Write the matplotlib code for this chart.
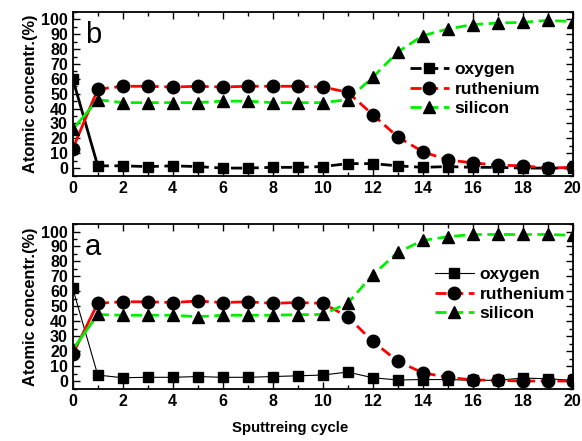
import numpy as np
import matplotlib
matplotlib.use("Agg")
import matplotlib.pyplot as plt
from matplotlib.ticker import MultipleLocator

plt.rcParams["font.family"] = ["Liberation Sans", "DejaVu Sans"]

# sputtering cycles
cycles = list(range(21))

# panel b (top)
b_oxygen = [60, 1.5, 1.5, 1, 1.5, 1, 0, 0, 0.5, 0.5, 1, 3, 3, 1.5, 0.5, 1, 0.5, 0.5, 0, 0, 0]
b_ruthenium = [13, 53, 55, 55, 54.5, 55, 54.5, 55, 55, 55, 54.5, 51, 36, 21, 11, 5.5, 3.5, 2, 1.5, 0, 0.5]
b_silicon = [26, 46, 44, 44, 44, 44, 45, 45, 44, 44, 44, 46, 61, 78, 89, 93.5, 96.5, 97.5, 98, 99.3, 98.5]

# panel a (bottom)
a_oxygen = [62, 4, 2.2, 2.5, 2.5, 3, 2.5, 2.5, 3, 3.5, 4, 6, 2.2, 0.7, 1, 1, 0.5, 0.5, 2, 1.5, 0.5]
a_ruthenium = [18, 52, 53, 53, 52.5, 53.5, 52.5, 53, 52, 52.5, 52, 43, 26.5, 13.3, 5.5, 2.5, 0.7, 0.5, 0, 0, 0]
a_silicon = [21, 44.5, 44, 44, 44, 43, 44, 44, 44, 44.4, 44.5, 52, 71, 86, 94, 96.5, 98, 98, 98, 98, 97.5]

series_names = ["oxygen", "ruthenium", "silicon"]
colors = ["black", "#ff0000", "#00ee00"]
markers = ["s", "o", "^"]
msizes = [7.5, 9, 9]

fig = plt.figure(figsize=(5.82, 4.41), dpi=100)
ax_b = fig.add_axes([0.125, 0.601, 0.859, 0.372])
ax_a = fig.add_axes([0.125, 0.118, 0.859, 0.374])

dash = (0, (4, 2))


def draw_panel(ax, data, letter, ox_lw, legend_pos):
    handles = []
    for i, (name, ys) in enumerate(zip(series_names, data)):
        lw = ox_lw if name == "oxygen" else 2.0
        ls = "-" if (name == "oxygen" and ox_lw < 1) else dash
        # first segment solid, remaining dashed
        ax.plot(cycles[:2], ys[:2], color=colors[i], lw=lw, ls="-", zorder=2)
        ax.plot(cycles[1:], ys[1:], color=colors[i], lw=lw, ls=ls, zorder=2)
        ax.plot(cycles, ys, ls="none", marker=markers[i], ms=msizes[i],
                color="black", zorder=3)
        h, = ax.plot([], [], color=colors[i], lw=lw, ls=ls, marker=markers[i],
                     ms=msizes[i], mfc="black", mec="black")
        handles.append(h)
    ax.legend(handles, series_names, loc="center", bbox_to_anchor=legend_pos,
              frameon=False, handlelength=2.2, handletextpad=0.35,
              labelspacing=0.25, prop={"weight": "bold", "size": 12.5})
    ax.set_xlim(0, 20)
    ax.set_ylim(-5.3, 105)
    ax.xaxis.set_major_locator(MultipleLocator(2))
    ax.xaxis.set_minor_locator(MultipleLocator(1))
    ax.yaxis.set_major_locator(MultipleLocator(10))
    ax.yaxis.set_minor_locator(MultipleLocator(5))
    ax.tick_params(which="both", direction="in", top=True, right=True,
                   width=1.0, labelsize=11.5)
    ax.tick_params(which="major", length=5)
    ax.tick_params(which="minor", length=3)
    for lab in ax.get_xticklabels() + ax.get_yticklabels():
        lab.set_fontweight("bold")
    for sp in ax.spines.values():
        sp.set_linewidth(1.3)
    ax.set_ylabel("Atomic concentr.(%)", fontweight="bold", fontsize=11.8,
                  labelpad=2)
    ax.text(0.025, 0.86, letter, transform=ax.transAxes, fontsize=21,
            va="center", ha="left")


draw_panel(ax_b, [b_oxygen, b_ruthenium, b_silicon], "b", 2.0, (0.805, 0.53))
draw_panel(ax_a, [a_oxygen, a_ruthenium, a_silicon], "a", 0.8, (0.855, 0.575))

fig.text(0.498, 0.013, "Sputtreing cycle", ha="center", va="bottom",
         fontweight="bold", fontsize=10.8)

fig.savefig("out.png", dpi=100)
